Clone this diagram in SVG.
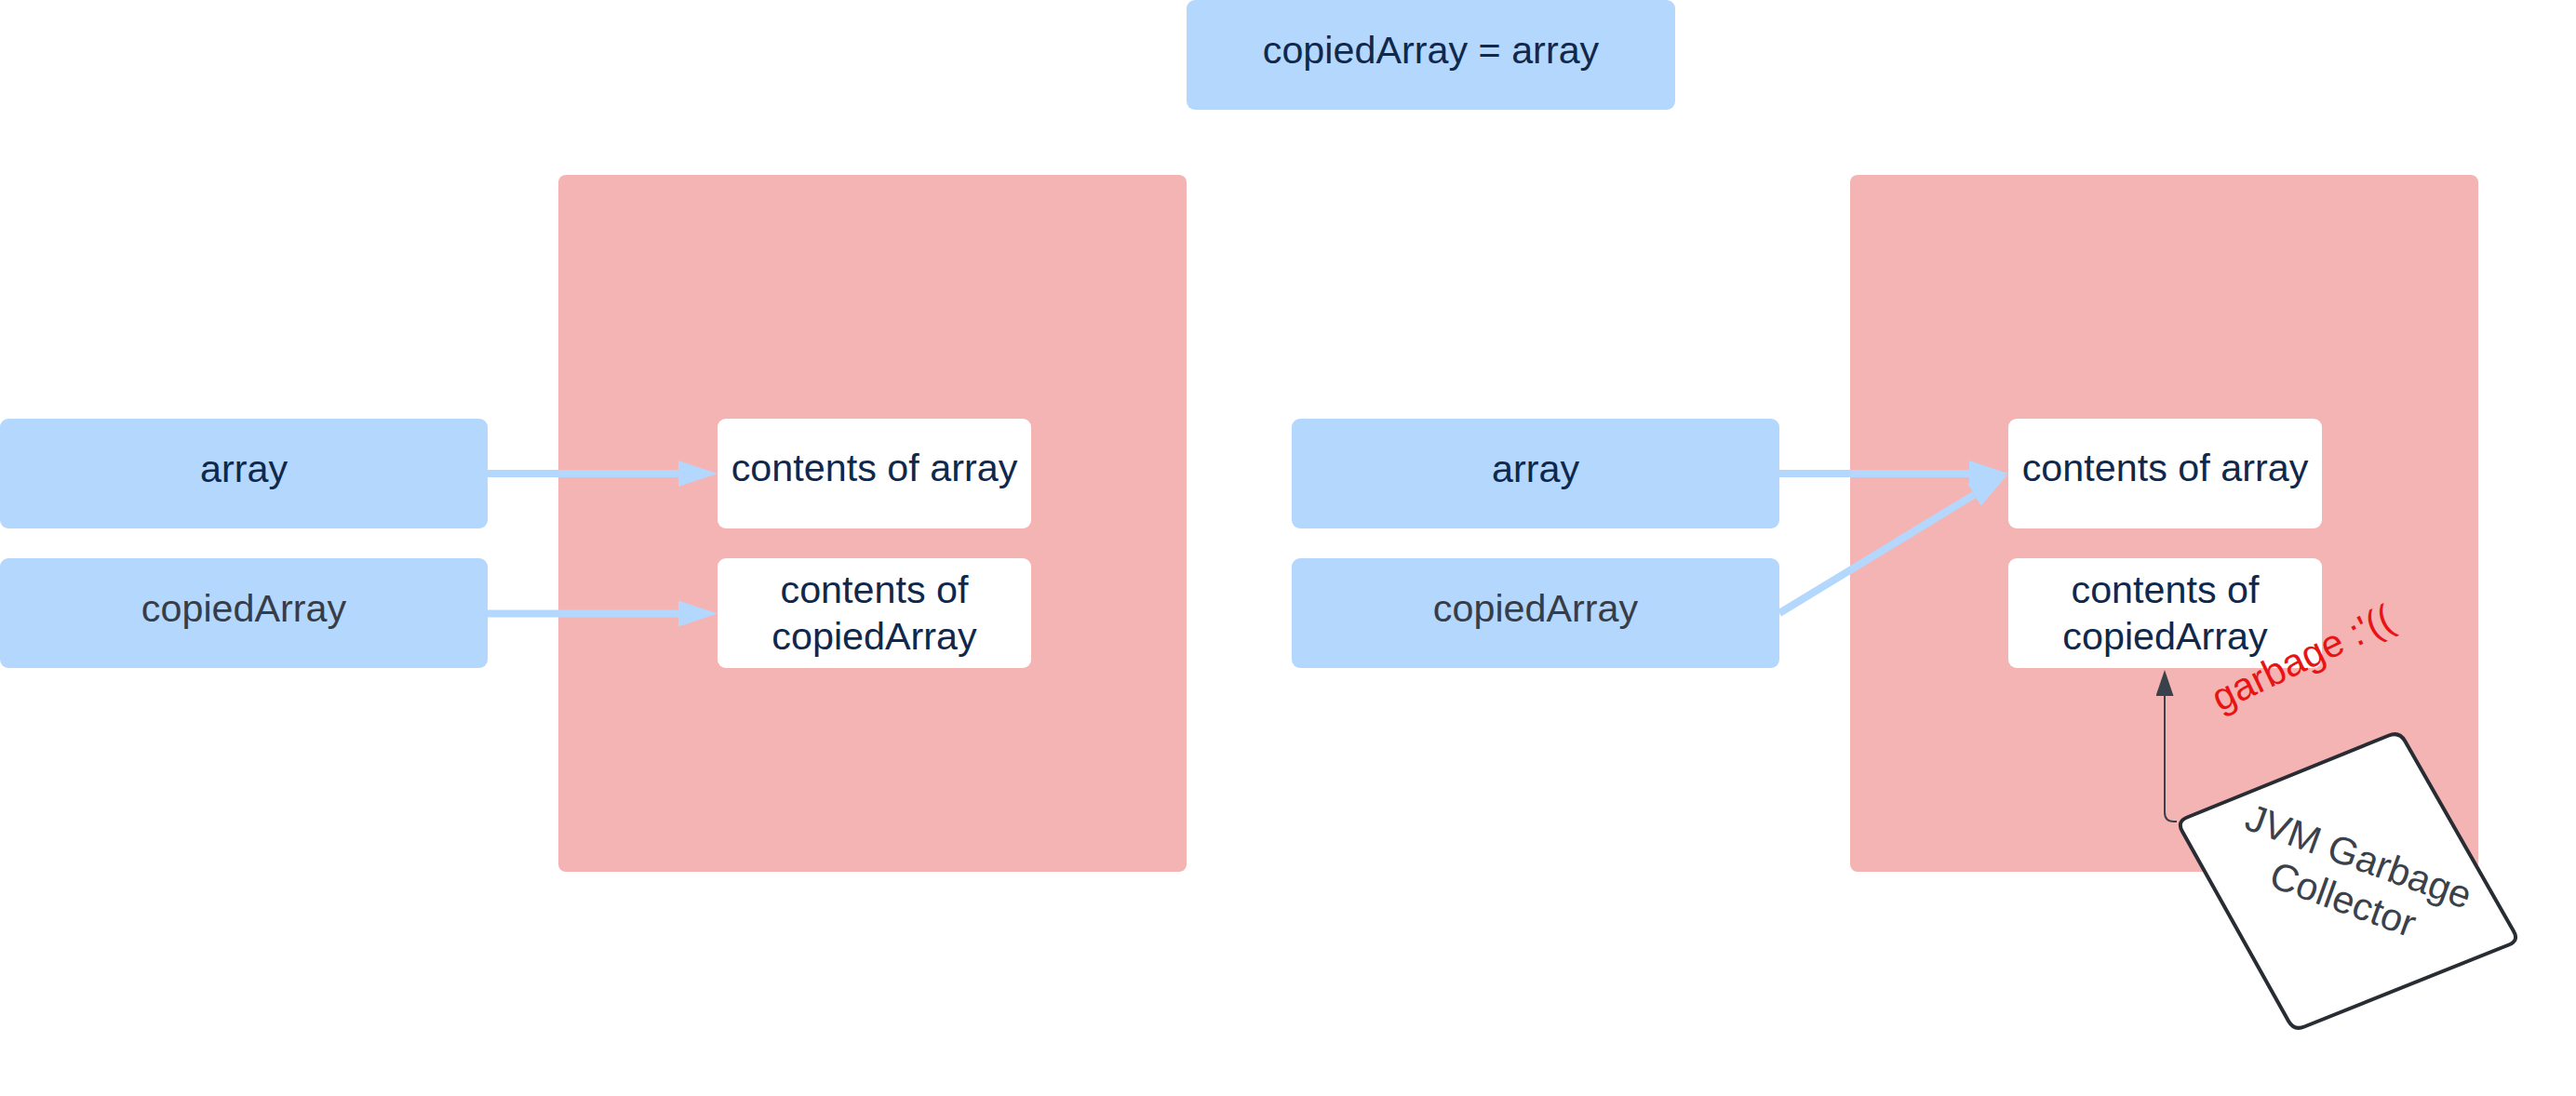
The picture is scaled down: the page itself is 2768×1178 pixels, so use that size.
<svg xmlns="http://www.w3.org/2000/svg" width="2768" height="1178" viewBox="0 0 2768 1178">
  <style>
    .blue { fill: #b4d7fe; }
    .pink { fill: #f5b4b4; }
    .white { fill: #ffffff; }
    .t { font-family: "Liberation Sans", Arial, sans-serif; font-size: 41.3px; text-anchor: middle; }
    .navy { fill: #10284b; }
    .gray { fill: #363d48; }
    .conn { stroke: #b4d7fe; stroke-width: 8; fill: none; }
    .gc { stroke: #3a414a; stroke-width: 2; fill: none; }
  </style>
  <defs>
    <marker id="bluehead" markerUnits="userSpaceOnUse" viewBox="0 0 42 28" markerWidth="42" markerHeight="28" refX="0" refY="14" orient="auto">
      <path d="M0,0 L42,14 L0,28 Z" fill="#b4d7fe"/>
    </marker>
    <marker id="darkhead" markerUnits="userSpaceOnUse" viewBox="0 0 28 19" markerWidth="28" markerHeight="19" refX="0" refY="9.5" orient="auto">
      <path d="M0,0 L28,9.5 L0,19 Z" fill="#3a414a"/>
    </marker>
  </defs>

  <g id="heap-left">
    <rect class="pink" x="600" y="188" width="675" height="749" rx="8"/>
  </g>
  <g id="heap-right">
    <rect class="pink" x="1988" y="188" width="675" height="749" rx="8"/>
  </g>

  <g id="title">
    <rect class="blue" x="1275" y="0" width="525" height="118" rx="9"/>
    <text class="t navy" x="1537.5" y="68">copiedArray = array</text>
  </g>

  <g id="array-left">
    <rect class="blue" x="0" y="450" width="524" height="118" rx="9"/>
    <text class="t navy" x="262" y="518">array</text>
  </g>
  <g id="copiedArray-left">
    <rect class="blue" x="0" y="600" width="524" height="118" rx="9"/>
    <text class="t gray" x="262" y="668">copiedArray</text>
  </g>
  <g id="contents-array-left">
    <rect class="white" x="771" y="450" width="337" height="118" rx="9"/>
    <text class="t navy" x="939.5" y="517">contents of array</text>
  </g>
  <g id="contents-copied-left">
    <rect class="white" x="771" y="600" width="337" height="118" rx="9"/>
    <text class="t navy" x="939.5" y="648">contents of</text>
    <text class="t navy" x="939.5" y="697.5">copiedArray</text>
  </g>

  <g id="array-right">
    <rect class="blue" x="1388" y="450" width="524" height="118" rx="9"/>
    <text class="t navy" x="1650" y="518">array</text>
  </g>
  <g id="copiedArray-right">
    <rect class="blue" x="1388" y="600" width="524" height="118" rx="9"/>
    <text class="t gray" x="1650" y="668">copiedArray</text>
  </g>
  <g id="contents-array-right">
    <rect class="white" x="2158" y="450" width="337" height="118" rx="9"/>
    <text class="t navy" x="2326.5" y="517">contents of array</text>
  </g>
  <g id="contents-copied-right">
    <rect class="white" x="2158" y="600" width="337" height="118" rx="9"/>
    <text class="t navy" x="2326.5" y="648">contents of</text>
    <text class="t navy" x="2326.5" y="697.5">copiedArray</text>
  </g>

  <g id="connectors">
    <line class="conn" x1="524" y1="509" x2="729" y2="509" marker-end="url(#bluehead)"/>
    <line class="conn" x1="524" y1="659.5" x2="729" y2="659.5" marker-end="url(#bluehead)"/>
    <line class="conn" x1="1912" y1="509" x2="2116" y2="509" marker-end="url(#bluehead)"/>
    <line class="conn" x1="1912" y1="659" x2="2121.4" y2="531.7" marker-end="url(#bluehead)"/>
    <path class="gc" d="M2339,883 L2336,883 Q2326,883 2326,873 L2326,748" marker-end="url(#darkhead)"/>
  </g>

  <g id="gc-node">
    <path d="M2350.1,878.5 L2566.9,790.5 Q2578,786 2584.1,796.3 L2700.9,1000.7 Q2707,1011 2695.9,1015.5 L2476.1,1103.5 Q2465,1108 2459.1,1097.5 L2344.9,893.5 Q2339,883 2350.1,878.5 Z" fill="#ffffff" stroke="#282c33" stroke-width="4"/>
    <g transform="translate(2522,946) rotate(20)">
      <text class="t" fill="#3a414a" x="3" y="-14">JVM Garbage</text>
      <text class="t" fill="#3a414a" x="3" y="35">Collector</text>
    </g>
  </g>

  <g id="garbage-label">
    <text class="t" fill="#e81414" transform="translate(2480,720) rotate(-25.5)" x="0" y="0">garbage :'((</text>
  </g>
</svg>
